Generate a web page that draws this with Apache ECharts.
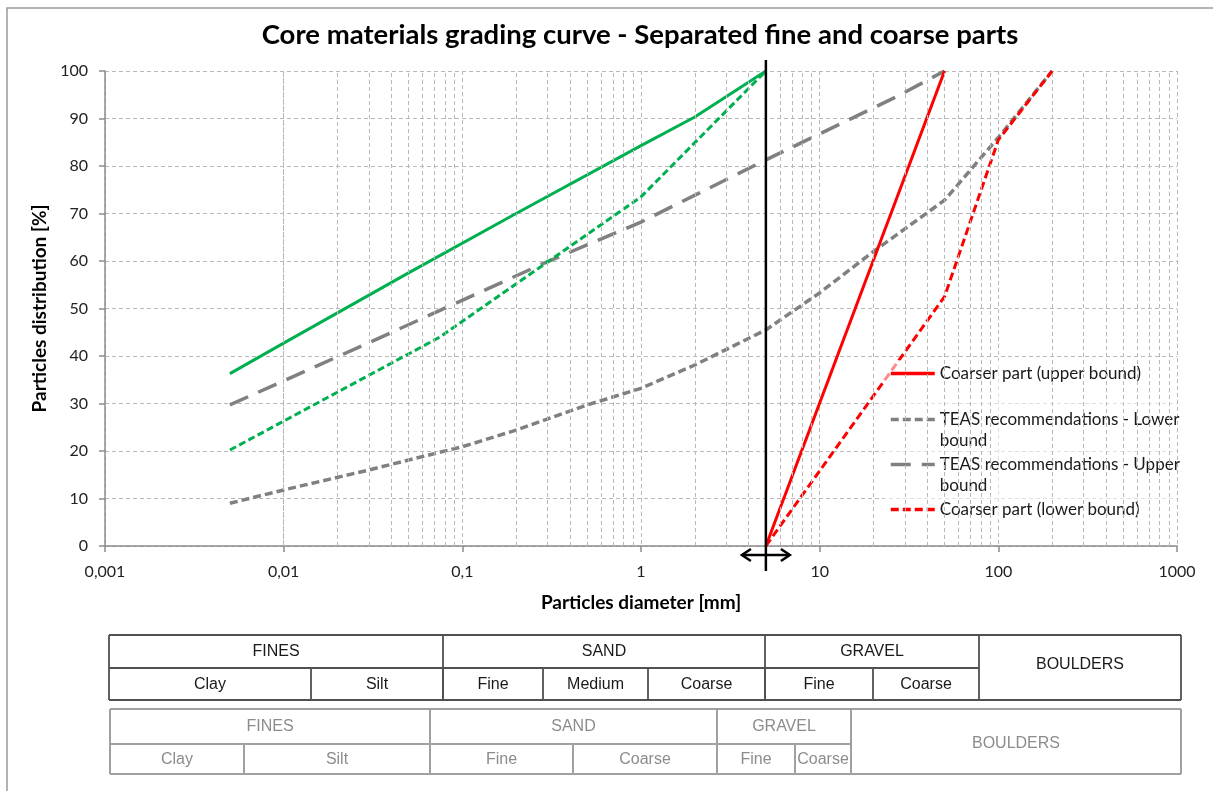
<!DOCTYPE html>
<html>
<head>
<meta charset="utf-8">
<title>Core materials grading curve</title>
<script src="https://cdn.jsdelivr.net/npm/echarts@6/dist/echarts.min.js"></script>
<style>
  html, body { margin: 0; padding: 0; background: #fff; }
  #chart { width: 1213px; height: 791px; }
</style>
</head>
<body>
<div id="chart"></div>
<script>
// Cumulative passing [%] against particle diameter [mm]

// Finer part of the core material
const fineUpperX = [0.005, 0.01, 0.05, 0.2, 1, 2, 5];
const fineUpperY = [36.3, 42.7, 57.5, 70.0, 84.3, 90.3, 100];
const fineLowerX = [0.005, 0.075, 1, 5];
const fineLowerY = [20.2, 44.0, 73.5, 100];

// TEAS recommended envelope
const teasUpperX = [0.005, 0.03, 0.285, 1, 5, 27, 50];
const teasUpperY = [29.7, 42.8, 59.5, 68.2, 81.3, 94.6, 100];
const teasLowerX = [0.005, 0.01, 0.03, 0.05, 0.1, 0.2, 0.5, 1, 2, 5, 10, 20, 50, 100, 200];
const teasLowerY = [9.0, 11.8, 16.0, 18.1, 20.9, 24.4, 29.7, 33.2, 38.1, 45.5, 53.3, 62.0, 72.8, 86.0, 100];

// Coarser part of the core material
const coarseUpperX = [5, 50];
const coarseUpperY = [0, 100];
const coarseLowerX = [5, 50, 100, 200];
const coarseLowerY = [0, 52.5, 85.5, 100];

// Split size between the fine and the coarse fraction [mm]
const separationSize = 5;

// Axis tick labels
const xTickLabels = ['0,001', '0,01', '0,1', '1', '10', '100', '1000'];
const yTickLabels = ['0', '10', '20', '30', '40', '50', '60', '70', '80', '90', '100'];

// Soil classification tables under the chart
const table1Groups = ['FINES', 'SAND', 'GRAVEL', 'BOULDERS'];
const table1Classes = ['Clay', 'Silt', 'Fine', 'Medium', 'Coarse', 'Fine', 'Coarse'];
const table2Groups = ['FINES', 'SAND', 'GRAVEL', 'BOULDERS'];
const table2Classes = ['Clay', 'Silt', 'Fine', 'Coarse', 'Fine', 'Coarse'];

// ---------------------------------------------------------------------------
const FONT = 'Lato, "Open Sans", sans-serif';
const TABLE_FONT = '"Liberation Sans", Arial, sans-serif';
const GREEN = '#00b050', GREY = '#808080', RED = '#ff0000';

const pairs = (xs, ys) => xs.map((x, i) => [x, ys[i]]);

// minor log grid positions (2..9 within every decade)
const minorGrid = [];
for (let e = -3; e < 3; e++) {
  for (let m = 2; m <= 9; m++) minorGrid.push(+(m * Math.pow(10, e)).toPrecision(6));
}

function lineSeries(name, xs, ys, color, width, dash) {
  return {
    name: name,
    type: 'line',
    data: pairs(xs, ys),
    symbol: 'none',
    showSymbol: false,
    smooth: false,
    silent: true,
    z: 3,
    itemStyle: { color: color },
    lineStyle: { color: color, width: width, type: dash || 'solid', cap: 'butt', join: 'miter' }
  };
}

// two-line labels get a blank line on top so the first line sits level with the key
const legendEntries = [
  { name: 'Coarser part (upper bound)', label: 'Coarser part (upper bound)', top: 363 },
  { name: 'TEAS recommendations - Lower bound', label: ' \nTEAS recommendations - Lower\nbound', top: 388 },
  { name: 'TEAS recommendations - Upper bound', label: ' \nTEAS recommendations - Upper\nbound', top: 433 },
  { name: 'Coarser part (lower bound)', label: 'Coarser part (lower bound)', top: 499 }
];

const chart = echarts.init(document.getElementById('chart'), null, { renderer: 'canvas' });

const option = {
  animation: false,
  backgroundColor: '#ffffff',
  title: {
    text: 'Core materials grading curve - Separated fine and coarse parts',
    left: 640,
    top: 21,
    textAlign: 'center',
    padding: 0,
    textStyle: { fontFamily: FONT, fontWeight: 'bold', fontSize: 27.5, color: '#000' }
  },
  grid: { left: 105, right: 36, top: 71, bottom: 245, containLabel: false, outerBoundsMode: 'none' },
  xAxis: {
    type: 'log',
    logBase: 10,
    min: 0.001,
    max: 1000,
    name: 'Particles diameter [mm]',
    nameLocation: 'middle',
    nameGap: 47,
    nameTextStyle: { fontFamily: FONT, fontWeight: 'bold', fontSize: 19, color: '#000' },
    axisLine: { show: true, onZero: false, lineStyle: { color: '#8c8c8c', width: 1.5 } },
    axisTick: { show: true, inside: false, length: 6, lineStyle: { color: '#8c8c8c', width: 1.5 } },
    axisLabel: {
      margin: 18,
      fontFamily: FONT, fontSize: 16, color: '#222',
      formatter: v => xTickLabels[Math.round(Math.log10(v)) + 3] ?? String(v).replace('.', ',')
    },
    splitLine: { show: true, lineStyle: { color: '#b8b8b8', width: 1, type: [4, 3] } },
    minorTick: { show: false },
    minorSplitLine: { show: false }
  },
  yAxis: {
    type: 'value',
    min: 0,
    max: 100,
    interval: 10,
    name: 'Particles distribution [%]',
    nameLocation: 'middle',
    nameGap: 55,
    nameRotate: 90,
    nameTextStyle: { fontFamily: FONT, fontWeight: 'bold', fontSize: 19, color: '#000' },
    axisLine: { show: true, lineStyle: { color: '#8c8c8c', width: 1.5 } },
    axisTick: { show: true, inside: false, length: 6, lineStyle: { color: '#8c8c8c', width: 1.5 } },
    axisLabel: {
      margin: 17,
      fontFamily: FONT, fontSize: 16, color: '#222',
      formatter: (v, i) => yTickLabels[i] ?? String(v)
    },
    splitLine: { show: true, lineStyle: { color: '#b8b8b8', width: 1, type: [4, 3] } }
  },
  legend: legendEntries.map(e => ({
    data: [e.name],
    left: 889,
    top: e.top,
    orient: 'vertical',
    padding: 0,
    itemGap: 0,
    itemWidth: 44,
    itemHeight: 14,
    selectedMode: false,
    itemStyle: { color: 'rgba(0,0,0,0)', borderColor: 'rgba(0,0,0,0)', borderWidth: 0, opacity: 0 },
    lineStyle: { width: 3.5 },
    formatter: () => e.label,
    textStyle: { fontFamily: FONT, fontSize: 17, color: '#1a1a1a', lineHeight: 21 }
  })),
  series: [
    {
      name: 'log grid',
      type: 'line',
      data: [],
      silent: true,
      z: 1,
      markLine: {
        silent: true,
        symbol: ['none', 'none'],
        label: { show: false },
        emphasis: { disabled: true },
        lineStyle: { color: '#b8b8b8', width: 1, type: [4, 3] },
        data: minorGrid.map(v => ({ xAxis: v }))
      }
    },
    lineSeries('TEAS recommendations - Lower bound', teasLowerX, teasLowerY, GREY, 3.5, [8, 4]),
    lineSeries('TEAS recommendations - Upper bound', teasUpperX, teasUpperY, GREY, 3.5, [20, 11]),
    lineSeries('Finer part (upper bound)', fineUpperX, fineUpperY, GREEN, 3),
    lineSeries('Finer part (lower bound)', fineLowerX, fineLowerY, GREEN, 3, [7, 3.5]),
    lineSeries('Coarser part (upper bound)', coarseUpperX, coarseUpperY, RED, 3),
    lineSeries('Coarser part (lower bound)', coarseLowerX, coarseLowerY, RED, 3, [8, 4])
  ]
};

chart.setOption(option);

// ---------------------------------------------------------------------------
// Separation marker, legend backdrop, frame and classification tables
const sepX = chart.convertToPixel({ xAxisIndex: 0 }, separationSize);
const topY = chart.convertToPixel({ yAxisIndex: 0 }, 100);
const baseY = chart.convertToPixel({ yAxisIndex: 0 }, 0);
const arrowY = baseY + 9;
const arrowHalf = 24;

function table(layout, groups, classes, colors) {
  const els = [];
  const [y0, y1, y2] = layout.rows;
  const line = (x1, ya, x2, yb) => els.push({
    type: 'line', silent: true, z: 5,
    shape: { x1: x1, y1: ya, x2: x2, y2: yb },
    style: { stroke: colors.line, lineWidth: colors.width }
  });
  const text = (str, x, y) => els.push({
    type: 'text', silent: true, z: 5,
    style: { text: str, x: x, y: y, align: 'center', verticalAlign: 'middle',
             fontFamily: TABLE_FONT, fontSize: 16, fill: colors.text }
  });
  const left = layout.groups[0][0];
  const right = layout.groups[layout.groups.length - 1][1];
  const spanStart = layout.groups[layout.groups.length - 1][0];
  line(left, y0, right, y0);
  line(left, y2, right, y2);
  line(left, y1, spanStart, y1);
  line(left, y0, left, y2);
  line(right, y0, right, y2);
  layout.groups.forEach((g, i) => {
    if (i > 0) line(g[0], y0, g[0], y2);
    const last = i === layout.groups.length - 1;
    text(groups[i], (g[0] + g[1]) / 2, last ? layout.spanY : (y0 + y1) / 2);
  });
  layout.classes.forEach((c, i) => {
    if (i > 0) line(c[0], y1, c[0], y2);
    text(classes[i], (c[0] + c[1]) / 2, (y1 + y2) / 2 + 1);
  });
  return els;
}

const table1Layout = {
  rows: [635, 668, 700],
  spanY: 665,
  groups: [[109, 443], [443, 765], [765, 979], [979, 1181]],
  classes: [[109, 311], [311, 443], [443, 543], [543, 648], [648, 765], [765, 873], [873, 979]]
};
const table2Layout = {
  rows: [709, 744, 774],
  spanY: 744,
  groups: [[110, 430], [430, 717], [717, 851], [851, 1181]],
  classes: [[110, 244], [244, 430], [430, 573], [573, 717], [717, 795], [795, 851]]
};

const graphics = [
  {
    type: 'rect', silent: true, z: 0,
    shape: { x: 7, y: 8, width: 1400, height: 1000 },
    style: { fill: 'none', stroke: '#9a9a9a', lineWidth: 1.5 }
  },
  {
    type: 'rect', silent: true, z: 3.5,
    shape: { x: 884, y: 360, width: 293, height: 160 },
    style: { fill: 'rgba(255,255,255,0.55)' }
  },
  {
    type: 'line', silent: true, z: 10,
    shape: { x1: sepX, y1: topY - 11, x2: sepX, y2: baseY + 25 },
    style: { stroke: '#000', lineWidth: 2.5 }
  },
  {
    type: 'line', silent: true, z: 10,
    shape: { x1: sepX - arrowHalf, y1: arrowY, x2: sepX + arrowHalf, y2: arrowY },
    style: { stroke: '#000', lineWidth: 2.5 }
  },
  {
    type: 'polyline', silent: true, z: 10,
    shape: { points: [[sepX - arrowHalf + 9, arrowY - 6], [sepX - arrowHalf, arrowY], [sepX - arrowHalf + 9, arrowY + 6]] },
    style: { stroke: '#000', lineWidth: 2.5, fill: 'none' }
  },
  {
    type: 'polyline', silent: true, z: 10,
    shape: { points: [[sepX + arrowHalf - 9, arrowY - 6], [sepX + arrowHalf, arrowY], [sepX + arrowHalf - 9, arrowY + 6]] },
    style: { stroke: '#000', lineWidth: 2.5, fill: 'none' }
  }
].concat(
  table(table1Layout, table1Groups, table1Classes, { line: '#505050', width: 1.8, text: '#1a1a1a' }),
  table(table2Layout, table2Groups, table2Classes, { line: '#a0a0a0', width: 2, text: '#8c8c8c' })
);

chart.setOption({ graphic: graphics });
</script>
</body>
</html>
